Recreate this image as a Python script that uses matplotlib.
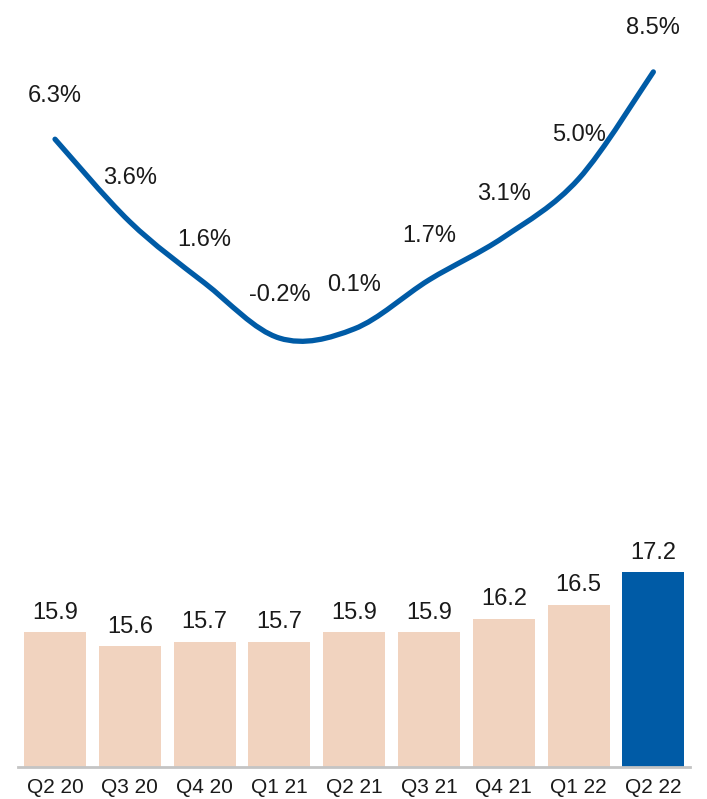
import matplotlib.pyplot as plt
from matplotlib.path import Path
from matplotlib.patches import PathPatch
import numpy as np

# ── Data ──────────────────────────────────────────────────────────────────────
quarters = ["Q2 20", "Q3 20", "Q4 20", "Q1 21", "Q2 21",
            "Q3 21", "Q4 21", "Q1 22", "Q2 22"]
growth_pct = [6.3, 3.6, 1.6, -0.2, 0.1, 1.7, 3.1, 5.0, 8.5]
bar_values = [15.9, 15.6, 15.7, 15.7, 15.9, 15.9, 16.2, 16.5, 17.2]

# ── Palette ───────────────────────────────────────────────────────────────────
BLUE = "#005BA6"
PEACH = "#F1D3BF"
TEXT = "#1A1A1A"
AXIS = "#C4C4C4"

plt.rcParams["font.family"] = ["Liberation Sans", "DejaVu Sans"]

W, H = 707, 799
fig = plt.figure(figsize=(W / 100, H / 100), dpi=100)
fig.patch.set_facecolor("white")

XL, XR = 18, 690          # pixel span of the x axis
XLIM = (-0.495, 8.49)


def px_axes(x0, y_top, x1, y_bot):
    return fig.add_axes([x0 / W, 1 - y_bot / H, (x1 - x0) / W, (y_bot - y_top) / H])


# ── Top: smoothed growth line ─────────────────────────────────────────────────
ax_l = px_axes(XL, 0, XR, 380)
ax_l.set_xlim(*XLIM)
ax_l.set_ylim(-1.57, 10.85)
ax_l.axis("off")

x = np.arange(len(growth_pct), dtype=float)
y = np.asarray(growth_pct, dtype=float)
pts = np.column_stack([x, y])
ext = np.vstack([pts[0], pts, pts[-1]])
verts = [tuple(pts[0])]
codes = [Path.MOVETO]
for i in range(len(pts) - 1):
    p0, p1, p2, p3 = ext[i], ext[i + 1], ext[i + 2], ext[i + 3]
    c1 = p1 + (p2 - p0) / 6
    c2 = p2 - (p3 - p1) / 6
    verts += [tuple(c1), tuple(c2), tuple(p2)]
    codes += [Path.CURVE4] * 3
ax_l.add_patch(PathPatch(Path(verts, codes), facecolor="none", edgecolor=BLUE,
                         lw=3.8, capstyle="round", joinstyle="round"))

for xi, v in zip(x, growth_pct):
    ax_l.annotate(f"{v:.1f}%", (xi, v), xytext=(0, 27), textcoords="offset points",
                  ha="center", va="baseline", fontsize=17, color=TEXT)

# ── Bottom: bars ──────────────────────────────────────────────────────────────
BASE = 13.0
ax_b = px_axes(XL, 540, XR, 767)
ax_b.set_xlim(*XLIM)
ax_b.set_ylim(BASE, BASE + 227 / 46.4)

colors = [PEACH] * (len(bar_values) - 1) + [BLUE]
bars = ax_b.bar(x, np.asarray(bar_values) - BASE, bottom=BASE, width=0.83,
                color=colors, edgecolor="none")
for xi, v in zip(x, bar_values):
    ax_b.annotate(f"{v:.1f}", (xi, v), xytext=(0, 6), textcoords="offset points",
                  ha="center", va="bottom", fontsize=17, color=TEXT)

for s in ["top", "right", "left"]:
    ax_b.spines[s].set_visible(False)
ax_b.spines["bottom"].set_color(AXIS)
ax_b.spines["bottom"].set_linewidth(2)
ax_b.set_yticks([])
ax_b.set_xticks(x)
ax_b.set_xticklabels(quarters, fontsize=15, color=TEXT)
ax_b.tick_params(axis="x", length=0, pad=8)

fig.savefig("out.png", dpi=100, facecolor="white")
